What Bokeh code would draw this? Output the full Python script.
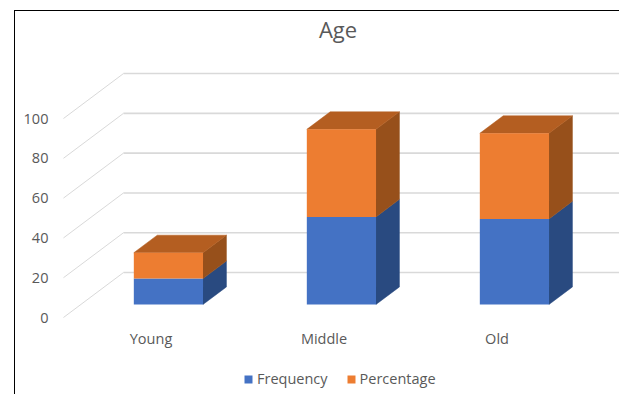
from bokeh.embed import file_html
from bokeh.resources import INLINE
from bokeh.plotting import figure
from bokeh.models import (BoxAnnotation, ColumnDataSource, FixedTicker, Label, Legend,
                          LegendItem, Range1d)

# Chart data
categories = ["Young", "Middle", "Old"]
frequency = [13, 44, 43]
percentage = [13, 44, 43]
value_ticks = [0, 20, 40, 60, 80, 100]

# Oblique projection of the 3-D chart box, in data units per unit of depth
DEPTH_X = 0.347
DEPTH_Y = 22.6
BAR_HALF = 0.2
BAR_FRONT = 0.29
BAR_BACK = 0.68

GRID = "#d9d9d9"
TEXT = "#595959"
BLUE, BLUE_SIDE = "#4472c4", "#294a80"
ORANGE, ORANGE_SIDE, ORANGE_TOP = "#ed7d31", "#97501b", "#b45e21"
FONT = "Open Sans"

W, H = 619, 394


def project(x, y, depth):
    return x + DEPTH_X * depth, y + DEPTH_Y * depth


# The frame fills the page; both axes are pinned to data positions inside it
p = figure(width=W, height=H, output_backend="svg", toolbar_location=None,
           x_range=Range1d(-0.87, 2.708), y_range=Range1d(-38.69, 159.3),
           min_border=0)
p.outline_line_color = None
p.grid.visible = False
p.background_fill_color = "white"
p.border_fill_color = "white"

# Value axis sits on the front edge of the floor
ya = p.yaxis[0]
ya.fixed_location = -0.535
ya.ticker = FixedTicker(ticks=value_ticks)
ya.axis_line_color = None
ya.major_tick_line_color = None
ya.minor_tick_line_color = None
ya.major_label_standoff = 4
ya.major_label_text_font = FONT
ya.major_label_text_font_size = "14.5px"
ya.major_label_text_color = TEXT

# Category axis
xa = p.xaxis[0]
xa.fixed_location = -1
xa.ticker = FixedTicker(ticks=list(range(len(categories))))
xa.major_label_overrides = {i: c for i, c in enumerate(categories)}
xa.axis_line_color = None
xa.major_tick_line_color = None
xa.minor_tick_line_color = None
xa.major_label_standoff = 4
xa.major_label_text_font = FONT
xa.major_label_text_font_size = "14.5px"
xa.major_label_text_color = TEXT

# Gridlines: a diagonal on the left side wall, then a line along the back wall
x_left = -0.506
x_right = 2.708
for v in value_ticks:
    bx, by = project(x_left, v, 1)
    p.line([x_left, bx], [v, by], line_color=GRID, line_width=1)
    p.line([bx, x_right], [by, by], line_color=GRID, line_width=1.6)

# Stacked bars: side and top faces as polygons, front faces as quads
def side(x, y0, y1):
    r = x + BAR_HALF
    a0 = project(r, y0, BAR_FRONT)
    b0 = project(r, y0, BAR_BACK)
    b1 = project(r, y1, BAR_BACK)
    a1 = project(r, y1, BAR_FRONT)
    return [a0[0], b0[0], b1[0], a1[0]], [a0[1], b0[1], b1[1], a1[1]]


def top_face(x, y):
    corners = [project(x - BAR_HALF, y, BAR_FRONT), project(x - BAR_HALF, y, BAR_BACK),
               project(x + BAR_HALF, y, BAR_BACK), project(x + BAR_HALF, y, BAR_FRONT)]
    return [c[0] for c in corners], [c[1] for c in corners]


idx = list(range(len(categories)))
totals = [a + b for a, b in zip(frequency, percentage)]

blue_side = [side(i, 0, f) for i, f in zip(idx, frequency)]
orange_side = [side(i, f, t) for i, f, t in zip(idx, frequency, totals)]
orange_top = [top_face(i, t) for i, t in zip(idx, totals)]

p.patches([s[0] for s in blue_side], [s[1] for s in blue_side],
          fill_color=BLUE_SIDE, line_color=BLUE_SIDE, line_width=0.5)
p.patches([s[0] for s in orange_side], [s[1] for s in orange_side],
          fill_color=ORANGE_SIDE, line_color=ORANGE_SIDE, line_width=0.5)
p.patches([s[0] for s in orange_top], [s[1] for s in orange_top],
          fill_color=ORANGE_TOP, line_color=ORANGE_TOP, line_width=0.5)

front = ColumnDataSource(dict(
    l=[project(i - BAR_HALF, 0, BAR_FRONT)[0] for i in idx],
    r=[project(i + BAR_HALF, 0, BAR_FRONT)[0] for i in idx],
    b0=[project(i, 0, BAR_FRONT)[1] for i in idx],
    t0=[project(i, f, BAR_FRONT)[1] for i, f in zip(idx, frequency)],
    t1=[project(i, t, BAR_FRONT)[1] for i, t in zip(idx, totals)],
))
freq_bars = p.quad(left="l", right="r", bottom="b0", top="t0", source=front,
                   fill_color=BLUE, line_color=None)
pct_bars = p.quad(left="l", right="r", bottom="t0", top="t1", source=front,
                  fill_color=ORANGE, line_color=None)

# Title
p.add_layout(Label(x=337.5, y=H - 28, x_units="screen", y_units="screen", text="Age",
                   text_align="center", text_baseline="alphabetic",
                   text_font=FONT, text_font_size="22px", text_color=TEXT))

# Legend, placed from the frame's lower left corner
legend = Legend(items=[LegendItem(label="Frequency", renderers=[freq_bars]),
                       LegendItem(label="Percentage", renderers=[pct_bars])],
                orientation="horizontal", location=(243, 6),
                border_line_color=None, background_fill_alpha=0,
                glyph_width=10, glyph_height=10, label_standoff=4, spacing=18,
                margin=0, padding=4,
                label_text_font=FONT, label_text_font_size="14.5px",
                label_text_color=TEXT)
p.add_layout(legend)

# Thin black edges along the top and left of the page
for box in (dict(left=13.5, right=W, top=9.5, bottom=10.5),
            dict(left=13.5, right=14.5, top=9.5, bottom=H)):
    p.add_layout(BoxAnnotation(left_units="canvas", right_units="canvas",
                               top_units="canvas", bottom_units="canvas",
                               fill_color="black", fill_alpha=1, line_color=None,
                               **box))

open("out.html", "w").write(file_html(p, INLINE))
